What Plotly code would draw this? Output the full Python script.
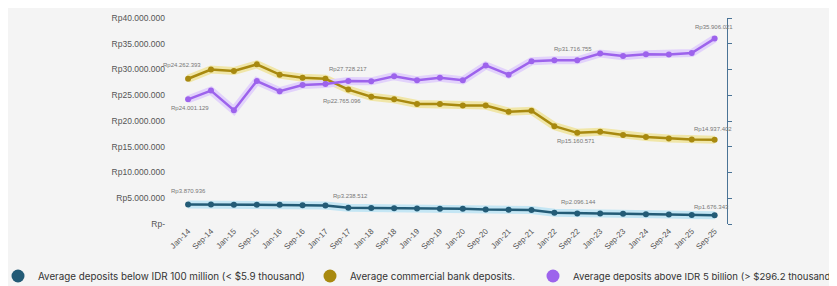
import plotly.graph_objects as go

categories = ["Jan-14", "Sep-14", "Jan-15", "Sep-15", "Jan-16", "Sep-16", "Jan-17", "Sep-17",
              "Jan-18", "Sep-18", "Jan-19", "Sep-19", "Jan-20", "Sep-20", "Jan-21", "Sep-21",
              "Jan-22", "Sep-22", "Jan-23", "Sep-23", "Jan-24", "Sep-24", "Jan-25", "Sep-25"]

below_100m = [3.80e6, 3.80e6, 3.76e6, 3.76e6, 3.73e6, 3.66e6, 3.60e6, 3.14e6,
              3.10e6, 3.08e6, 3.00e6, 2.95e6, 2.95e6, 2.80e6, 2.75e6, 2.72e6,
              2.17e6, 2.03e6, 2.02e6, 1.97e6, 1.90e6, 1.83e6, 1.77e6, 1.70e6]

commercial = [28.2e6, 30.0e6, 29.7e6, 31.0e6, 29.0e6, 28.4e6, 28.2e6, 26.1e6,
              24.7e6, 24.2e6, 23.3e6, 23.3e6, 23.0e6, 23.0e6, 21.8e6, 22.0e6,
              19.0e6, 17.7e6, 17.9e6, 17.3e6, 16.9e6, 16.6e6, 16.4e6, 16.35e6]

above_5b = [24.2e6, 25.9e6, 22.1e6, 27.75e6, 25.8e6, 27.0e6, 27.2e6, 27.75e6,
            27.7e6, 28.7e6, 27.9e6, 28.4e6, 27.9e6, 30.8e6, 29.0e6, 31.6e6,
            31.8e6, 31.8e6, 33.1e6, 32.6e6, 32.95e6, 32.9e6, 33.2e6, 36.0e6]

series_names = ["Average deposits below IDR 100 million (< $5.9 thousand)",
                "Average commercial bank deposits.",
                "Average deposits above IDR 5 billion (> $296.2 thousand)"]

# point labels (category, text)
labels_below = [("Jan-14", "Rp3.870.936"), ("Sep-17", "Rp3.238.512"),
                ("Sep-22", "Rp2.096.144"), ("Sep-25", "Rp1.676.343")]
labels_comm = [("Jan-14", "Rp24.262.393"), ("Sep-17", "Rp22.765.096"),
               ("Sep-22", "Rp15.160.571"), ("Sep-25", "Rp14.937.402")]
labels_above = [("Jan-14", "Rp24.001.129"), ("Sep-17", "Rp27.728.217"),
                ("Sep-22", "Rp31.716.755"), ("Sep-25", "Rp35.906.021")]

# label pixel offsets (style): (xshift, yshift)
offsets_below = [(0, 13), (2, 12), (1, 12), (-3, 8)]
offsets_comm = [(-6, 14), (-6, -11), (-1, -8), (-2, 11)]
offsets_above = [(2, -9), (0, 12), (-4, 11), (-1, 12)]

ytick_vals = [0, 5e6, 10e6, 15e6, 20e6, 25e6, 30e6, 35e6, 40e6]
ytick_text = ["Rp-", "Rp5.000.000", "Rp10.000.000", "Rp15.000.000", "Rp20.000.000",
              "Rp25.000.000", "Rp30.000.000", "Rp35.000.000", "Rp40.000.000"]

colors = ["#235b76", "#a8890f", "#9d63ec"]
glows = ["#c4e6f4", "#f0e6a8", "#e2d2fb"]

fig = go.Figure()
all_series = [below_100m, commercial, above_5b]
all_labels = [labels_below, labels_comm, labels_above]
all_offsets = [offsets_below, offsets_comm, offsets_above]

for vals, glow in zip(all_series, glows):
    fig.add_trace(go.Scatter(x=categories, y=vals, mode="lines",
                             line=dict(color=glow, width=8), showlegend=False, hoverinfo="skip"))
for vals, col, name in zip(all_series, colors, series_names):
    fig.add_trace(go.Scatter(x=categories, y=vals, mode="lines+markers", name=name,
                             line=dict(color=col, width=2.5), marker=dict(color=col, size=6),
                             showlegend=False))

idx = {c: i for i, c in enumerate(categories)}
for vals, labs, offs in zip(all_series, all_labels, all_offsets):
    for (cat, txt), (dx, dy) in zip(labs, offs):
        fig.add_annotation(x=cat, y=vals[idx[cat]], text=txt, showarrow=False,
                           xshift=dx, yshift=dy, xanchor="center", yanchor="middle",
                           font=dict(size=6, color="#777777", family="Liberation Sans"))

legend_ids = ["legend", "legend2", "legend3"]
for col, name, lid in zip(colors, series_names, legend_ids):
    fig.add_trace(go.Scatter(x=[None], y=[None], mode="markers", name=name, legend=lid,
                             marker=dict(color=col, size=13)))

# right-side axis (no labels)
fig.add_trace(go.Scatter(x=[None], y=[None], yaxis="y2", showlegend=False, hoverinfo="skip"))

legend_font = dict(family="Inter", size=9.8, color="#333333")
legend_font3 = dict(family="Inter", size=9.6, color="#333333")
leg_y = 1 - 268 / 286
fig.update_layout(
    width=837, height=286,
    margin=dict(l=162, r=118, t=10, b=70, autoexpand=False),
    paper_bgcolor="#f4f4f4", plot_bgcolor="#f4f4f4",
    font=dict(family="Liberation Sans", color="#555555"),
    xaxis=dict(type="category", range=[-0.79, 23.54], tickangle=-45, showgrid=False,
               showline=False, zeroline=False, tickfont=dict(size=8, color="#555555"),
               ticks=""),
    yaxis=dict(range=[0, 40e6], tickvals=ytick_vals, ticktext=ytick_text, showgrid=False,
               zeroline=False, showline=False, tickfont=dict(size=8.5, color="#555555"),
               ticks="", ticklabelstandoff=4),
    yaxis2=dict(range=[0, 40e6], overlaying="y", side="right", tickvals=ytick_vals,
                showticklabels=False, showline=True, linecolor="#4a7396", linewidth=1,
                ticks="outside", ticklen=4, tickcolor="#4a7396", showgrid=False, zeroline=False),
    legend=dict(orientation="h", xref="paper", yref="container", x=(-10 - 162) / 557,
                xanchor="left", y=leg_y, yanchor="middle", font=legend_font,
                bgcolor="rgba(0,0,0,0)"),
    legend2=dict(orientation="h", xref="container", yref="container", x=302 / 837, xanchor="left",
                 y=leg_y, yanchor="middle", font=legend_font, bgcolor="rgba(0,0,0,0)"),
    legend3=dict(orientation="h", xref="container", yref="container", x=525 / 837, xanchor="left",
                 y=leg_y, yanchor="middle", font=legend_font3, bgcolor="rgba(0,0,0,0)"),
)

fig.write_html("out.html")
